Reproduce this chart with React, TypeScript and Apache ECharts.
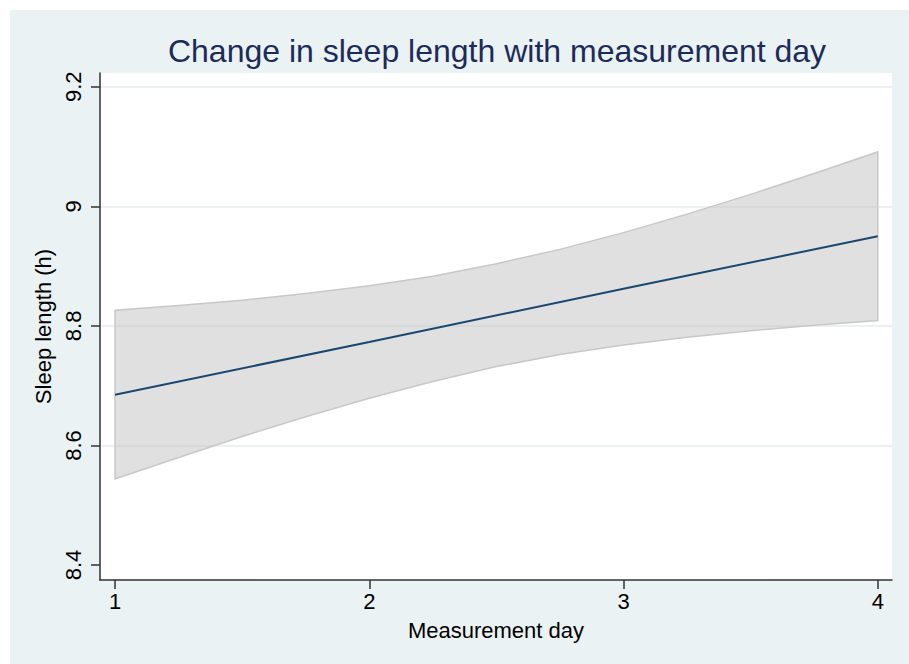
import React, { useEffect, useRef } from "react";
import * as echarts from "echarts";

const TITLE = "Change in sleep length with measurement day";
const X_NAME = "Measurement day";
const Y_NAME = "Sleep length (h)";

const xTicks = [1, 2, 3, 4];
const yTicks = [8.4, 8.6, 8.8, 9, 9.2];

// fitted line
const lineDays = [1, 2, 3, 4];
const lineValues = [8.685, 8.773, 8.862, 8.95];

// confidence band
const bandDays = [1, 1.25, 1.5, 1.75, 2, 2.25, 2.5, 2.75, 3, 3.25, 3.5, 3.75, 4];
const bandUpper = [8.826, 8.834, 8.843, 8.854, 8.867, 8.883, 8.904, 8.928, 8.956, 8.987, 9.02, 9.055, 9.091];
const bandLower = [8.544, 8.58, 8.615, 8.648, 8.679, 8.707, 8.732, 8.752, 8.768, 8.781, 8.792, 8.801, 8.809];

const FONT = "'Liberation Sans', Arial, sans-serif";

export default function App() {
  const ref = useRef<HTMLDivElement>(null);
  useEffect(() => {
    if (!ref.current) return;
    const chart = echarts.init(ref.current, null, { renderer: "svg" });
    chart.setOption({
      animation: false,
      backgroundColor: "#ffffff",
      textStyle: { fontFamily: FONT },
      graphic: [
        {
          type: "rect",
          z: -10,
          silent: true,
          shape: { x: 10, y: 10, width: 899, height: 654 },
          style: { fill: "#eaf2f3" },
        },
      ],
      title: {
        text: TITLE,
        left: 492,
        textAlign: "center",
        top: 30,
        textStyle: { fontFamily: FONT, fontSize: 32, fontWeight: "normal", color: "#1c2b5a" },
      },
      grid: {
        left: 100,
        top: 73,
        right: 17,
        bottom: 84,
        show: true,
        backgroundColor: "#ffffff",
        borderWidth: 0,
        containLabel: false,
      },
      xAxis: {
        type: "value",
        min: 0.941,
        max: 4.056,
        name: X_NAME,
        nameLocation: "middle",
        nameGap: 39,
        nameTextStyle: { fontFamily: FONT, fontSize: 22, color: "#000" },
        axisLine: { show: true, onZero: false, lineStyle: { color: "#333", width: 1.5 } },
        axisTick: { show: true, length: 9, customValues: xTicks, lineStyle: { color: "#333", width: 1.5 } },
        axisLabel: { customValues: xTicks, fontFamily: FONT, fontSize: 22, color: "#000", margin: 10 },
        splitLine: { show: false },
      },
      yAxis: {
        type: "value",
        min: 8.375,
        max: 9.223,
        name: Y_NAME,
        nameLocation: "middle",
        nameGap: 42,
        nameTextStyle: { fontFamily: FONT, fontSize: 22, color: "#000" },
        axisLine: { show: true, onZero: false, lineStyle: { color: "#333", width: 1.5 } },
        axisTick: { show: true, length: 9, customValues: yTicks, lineStyle: { color: "#333", width: 1.5 } },
        axisLabel: {
          customValues: yTicks,
          rotate: 90,
          fontFamily: FONT,
          fontSize: 22,
          color: "#000",
          margin: 16,
          formatter: (v: number) => String(v),
        },
        splitLine: { show: true, lineStyle: { color: ["transparent", "#e6eef0", "#e6eef0", "#e6eef0", "#e6eef0"], width: 1.5 } },
      },
      series: [
        {
          type: "custom",
          silent: true,
          z: 1,
          clip: true,
          data: [[bandDays[0], bandUpper[0]]],
          renderItem: (_params: any, api: any) => {
            const pts: number[][] = [];
            for (let i = 0; i < bandDays.length; i++) pts.push(api.coord([bandDays[i], bandUpper[i]]));
            for (let i = bandDays.length - 1; i >= 0; i--) pts.push(api.coord([bandDays[i], bandLower[i]]));
            return {
              type: "polygon",
              shape: { points: pts, smooth: 0 },
              style: { fill: "rgba(190,190,190,0.47)", stroke: "#c8c8c8", lineWidth: 1.5 },
            };
          },
        },
        {
          type: "line",
          z: 3,
          data: lineDays.map((d, i) => [d, lineValues[i]]),
          showSymbol: false,
          symbol: "none",
          lineStyle: { color: "#1a476f", width: 2 },
        },
      ],
    });
    return () => chart.dispose();
  }, []);
  return (
    <div style={{ position: "fixed", left: 0, top: 0, width: 909, height: 664, background: "#fff" }}>
      <div ref={ref} style={{ width: 909, height: 664 }} />
    </div>
  );
}
